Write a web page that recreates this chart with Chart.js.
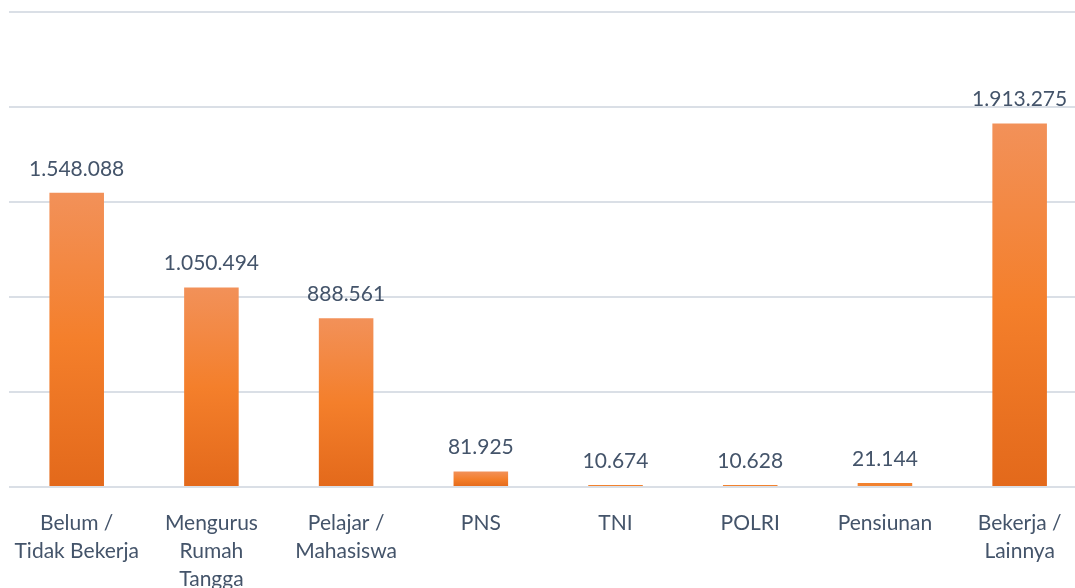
<!DOCTYPE html>
<html>
	<head>
		<meta charset="UTF-8" />
		<title>Pekerjaan</title>
		<style type="text/css">
			body {
				margin: 0;
				overflow: hidden;
				background: #fff;
			}
			.chartBox {
				width: 1090px;
				height: 600px;
			}
		</style>
	</head>
	<body>
		<div class="chartBox">
			<canvas id="myChart"></canvas>
		</div>
		<script src="https://cdn.jsdelivr.net/npm/chart.js"></script>
		<script>
			//data
			const categories = [
				['Belum /', 'Tidak Bekerja'],
				['Mengurus', 'Rumah', 'Tangga'],
				['Pelajar /', 'Mahasiswa'],
				'PNS',
				'TNI',
				'POLRI',
				'Pensiunan',
				['Bekerja /', 'Lainnya']
			];
			const jumlah = [1548088, 1050494, 888561, 81925, 10674, 10628, 21144, 1913275];
			const yMax = 2500000;
			const yStep = 500000;

			const textColor = '#44546A';
			const fontFamily = "Lato, 'Open Sans', sans-serif";

			function formatTitik(n) {
				return String(n).replace(/\B(?=(\d{3})+(?!\d))/g, '.');
			}

			//gradient per bar
			function barGradient(ctx) {
				const chart = ctx.chart;
				if (!chart.chartArea || ctx.type !== 'data') return '#F2822F';
				const yScale = chart.scales.y;
				const top = yScale.getPixelForValue(ctx.raw);
				const base = yScale.getPixelForValue(0);
				if (!isFinite(top) || base - top < 6) return '#F2822F';
				const g = chart.ctx.createLinearGradient(0, top, 0, base);
				g.addColorStop(0, '#F29159');
				g.addColorStop(0.5, '#F47F2B');
				g.addColorStop(1, '#E3691B');
				return g;
			}

			//labels di atas bar
			const labelAtas = {
				id: 'labelAtas',
				afterDatasetsDraw(chart) {
					const c = chart.ctx;
					const meta = chart.getDatasetMeta(0);
					c.save();
					c.font = '21px ' + fontFamily;
					c.fillStyle = textColor;
					c.textAlign = 'center';
					c.textBaseline = 'middle';
					meta.data.forEach((bar, i) => {
						c.fillText(formatTitik(jumlah[i]), bar.x, bar.y - 24);
					});
					c.restore();
				}
			};

			const data = {
				labels: categories,
				datasets: [{
					label: 'Jumlah',
					data: jumlah,
					backgroundColor: barGradient,
					borderWidth: 0,
					categoryPercentage: 1.0,
					barPercentage: 0.405
				}]
			};

			const config = {
				type: 'bar',
				data,
				options: {
					responsive: true,
					maintainAspectRatio: false,
					animation: false,
					layout: {
						padding: { top: 12, left: 8, right: 3, bottom: 0 }
					},
					plugins: {
						legend: { display: false },
						tooltip: { enabled: false }
					},
					scales: {
						x: {
							grid: { display: false },
							border: { display: false },
							ticks: {
								color: textColor,
								font: { family: fontFamily, size: 21, lineHeight: 1.34 },
								padding: 14,
								maxRotation: 0,
								autoSkip: false
							},
							afterFit(scale) {
								scale.height = 113;
							}
						},
						y: {
							min: 0,
							max: yMax,
							ticks: { display: false, stepSize: yStep },
							border: { display: false },
							grid: {
								color: '#DADFE6',
								lineWidth: 2,
								drawTicks: false
							},
							afterFit(scale) {
								scale.width = 0;
							}
						}
					}
				},
				plugins: [labelAtas]
			};

			const myChart = new Chart(document.getElementById('myChart'), config);
		</script>
	</body>
</html>
